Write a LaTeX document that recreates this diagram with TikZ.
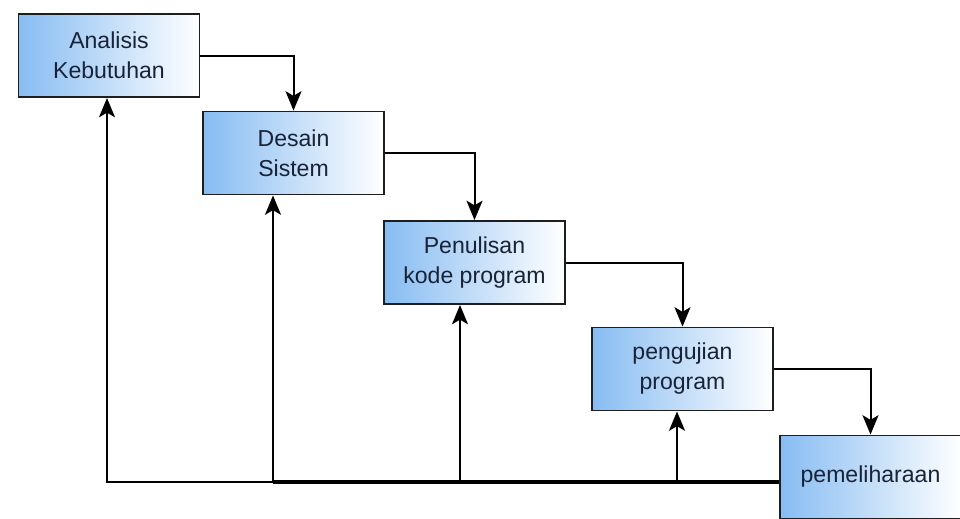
\documentclass[tikz,border=0pt]{standalone}
\usepackage{fontspec}
\setmainfont{Liberation Sans}
\usetikzlibrary{arrows.meta}
\definecolor{boxblue}{RGB}{135,188,242}
\definecolor{boxline}{RGB}{30,30,30}
\definecolor{txt}{RGB}{25,35,55}
\tikzset{
  stage/.style={draw=boxline, line width=1.2pt, left color=boxblue, right color=white,
    minimum width=136pt, minimum height=62.5pt,
    align=center, inner sep=0pt, text=txt,
    font=\fontsize{17.3}{22.5}\selectfont},
  conn/.style={draw=black, line width=1.5pt},
  arr/.style={conn, -{Stealth[length=14.5pt, width=12pt, inset=3.5pt]}},
}
\begin{document}
\begin{tikzpicture}[x=0.75pt,y=-0.75pt]
\fill[white] (0,0) rectangle (960,518);
\clip (0,0) rectangle (960,518);
\useasboundingbox (0,0) rectangle (960,518);

\node[stage] (a) at (109,55.5) {Analisis\\Kebutuhan};
\node[stage] (b) at (293.5,153) {Desain\\Sistem};
\node[stage] (c) at (474.5,262.5) {Penulisan\\kode program};
\node[stage] (d) at (682.5,369) {pengujian\\program};
\node[stage] (e) at (870.5,477) {pemeliharaan};

\draw[arr] (a.east) -| (b.north);
\draw[arr] (b.east) -| (c.north);
\draw[arr] (c.east) -| (d.north);
\draw[arr] (d.east) -| (e.north);

\coordinate (b1) at (107,482);
\coordinate (b2) at (273,482);
\coordinate (b3) at (460,482);
\coordinate (b4) at (677,482);

\draw[conn, line width=3pt] (b2) -- (e.west |- b2);
\draw[arr] (b2) -- (b1) -- (b1 |- a.south);
\draw[arr] (b2) -- (b2 |- b.south);
\draw[arr] (b3) -- (b3 |- c.south);
\draw[arr] (b4) -- (b4 |- d.south);
\end{tikzpicture}
\end{document}
